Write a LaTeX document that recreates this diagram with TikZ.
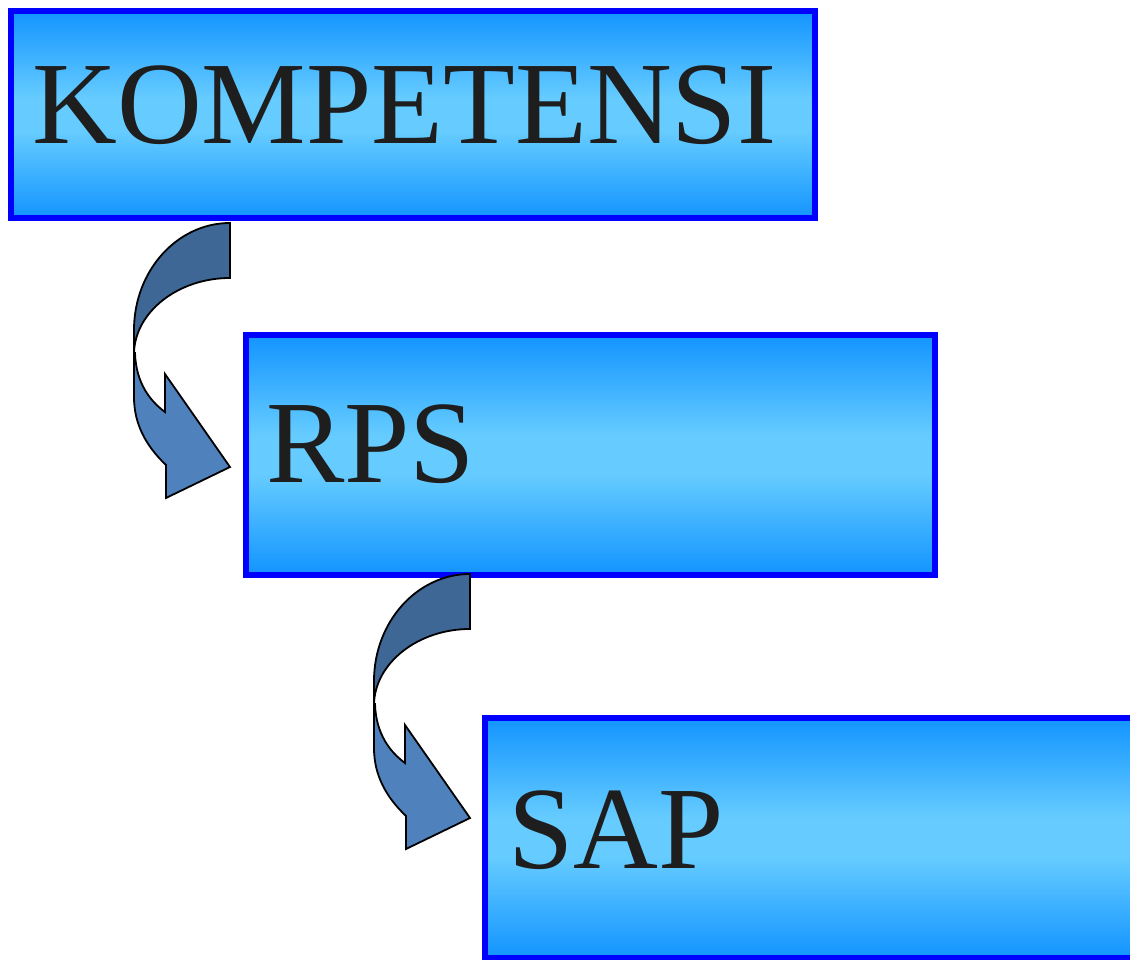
\documentclass[tikz,border=0pt]{standalone}
\usepackage{fontspec}
\setmainfont{Liberation Serif}
\usetikzlibrary{calc}
\definecolor{boxedge}{RGB}{0,0,255}
\definecolor{boxout}{RGB}{18,148,255}
\definecolor{boxin}{RGB}{102,204,255}
\definecolor{arrdark}{RGB}{62,103,150}
\definecolor{arrlight}{RGB}{79,129,189}
\definecolor{txt}{RGB}{30,30,30}
\pgfdeclareverticalshading{boxshade}{100bp}{color(0bp)=(boxout); color(25bp)=(boxout);
  color(46bp)=(boxin); color(54bp)=(boxin); color(75bp)=(boxout); color(100bp)=(boxout)}
\tikzset{
  box/.style={draw=boxedge, line width=6pt, shade, shading=boxshade,
    anchor=north west, inner sep=0pt, outer sep=0pt},
  lbl/.style={text=txt, font=\fontsize{117.5}{120}\selectfont, inner sep=0pt, anchor=base west},
  arrpart/.style={draw=black, line width=1.8pt, line join=miter},
  curvarrow/.pic={
    \path[arrpart, fill=arrdark] (0,0) .. controls (-53,0) and (-96,48) .. (-96,107)
      -- (-96,130) .. controls (-95,89) and (-52,55) .. (0,55) -- cycle;
    \path[arrpart, fill=arrlight] (-95,130) .. controls (-94,160) and (-80,178) .. (-65,189)
      -- (-65,151) -- (0,244) -- (-64,275) -- (-64,242)
      .. controls (-85,222) and (-96,200) .. (-96,174) -- (-96,130) -- cycle;
  }
}
\begin{document}
\begin{tikzpicture}[x=1pt,y=-1pt]
\useasboundingbox (0,0) rectangle (1130,960);
\clip (0,0) rectangle (1130,960);
\node[box, minimum width=804pt, minimum height=207.5pt] (k) at (11,11) {};
\node[box, minimum width=689.5pt, minimum height=240.5pt] (r) at (245.5,334.5) {};
\node[box, minimum width=700pt, minimum height=240pt] (s) at (485,717.5) {};
\node[lbl] (kt) at (32,144) {KOMPETENSI};
\node[lbl] (rt) at (266,482) {RPS};
\node[lbl] (st) at (508,868) {SAP};
\pic at ($(k.south west)+(219,4.5)$) {curvarrow};
\pic at ($(r.south west)+(224.5,-1)$) {curvarrow};
\end{tikzpicture}
\end{document}
